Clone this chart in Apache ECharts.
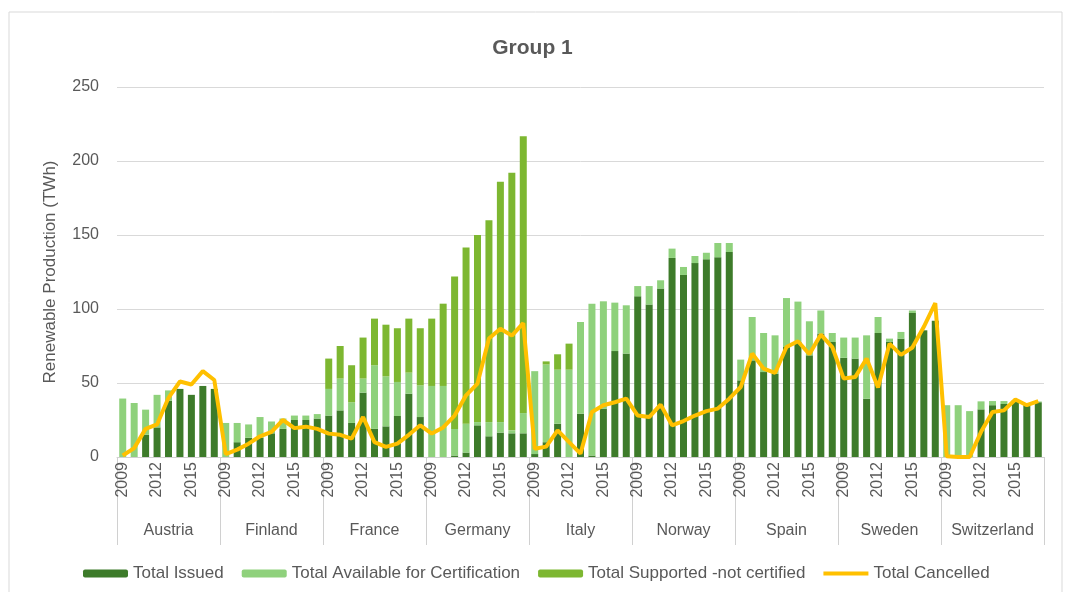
<!DOCTYPE html>
<html>
<head>
<meta charset="utf-8">
<script src="https://cdn.jsdelivr.net/npm/echarts@6/dist/echarts.min.js"></script>
<style>
  html, body { margin: 0; padding: 0; background: #ffffff; }
  #chart { width: 1065px; height: 592px; }
</style>
</head>
<body>
<div id="chart"></div>
<script>
const countries = ['Austria', 'Finland', 'France', 'Germany', 'Italy', 'Norway', 'Spain', 'Sweden', 'Switzerland'];
const years = ['2009', '2010', '2011', '2012', '2013', '2014', '2015', '2016', '2017'];
const shownYears = ['2009', '2012', '2015'];
const yTicks = [0, 50, 100, 150, 200, 250];

// one row of 9 values (2009-2017) per country, countries in the order above
const totalIssued = [
  0, 0, 15, 20, 38, 46, 42, 48, 46,
  0, 10, 13, 13, 16, 19, 25, 25, 26,
  28, 31.5, 23, 43.5, 19, 20.7, 27.7, 42.8, 27,
  0, 0, 1, 3, 21.4, 14, 16.5, 16, 16,
  2, 10, 22.5, 0, 29.3, 1, 32.7, 71.6, 69.9,
  108.6, 103, 113.8, 134.5, 123, 131, 133.6, 135, 138.5,
  51.8, 65.3, 57.4, 56.3, 74.3, 77.7, 68.7, 83.4, 77.7,
  67, 66.5, 39.4, 83.8, 78, 80, 97.3, 85.6, 92,
  0, 0, 0, 32.2, 35, 35.8, 38.5, 35, 37
];
const totalAvailable = [
  39.5, 36.5, 17, 22, 7, 0, 0, 0, 0,
  23, 13, 9, 14, 8, 7, 3, 3, 3,
  18, 21.5, 14, 9.5, 43, 33.8, 23, 14.2, 21.4,
  48, 48, 18, 19.5, 2.2, 9.6, 7.1, 2, 13.7,
  56, 52.5, 36.5, 59, 61.9, 102.6, 72.5, 32.7, 32.6,
  6.9, 12.5, 5.6, 6.3, 5.4, 4.8, 4.4, 9.6, 6.1,
  14, 29.3, 26.4, 25.9, 33.1, 27.3, 23, 15.6, 6.1,
  13.7, 14.2, 42.8, 10.8, 2, 4.5, 1.7, 0, 0,
  35, 35, 31, 5.4, 2.8, 2, 0, 1, 0.5
];
const totalSupported = [
  0, 0, 0, 0, 0, 0, 0, 0, 0,
  0, 0, 0, 0, 0, 0, 0, 0, 0,
  20.5, 22, 25, 27.7, 31.5, 34.9, 36.3, 36.5, 38.6,
  45.5, 55.6, 103, 119, 126.4, 136.4, 162.4, 174, 187,
  0, 2.1, 10.4, 17.6, 0, 0, 0, 0, 0,
  0, 0, 0, 0, 0, 0, 0, 0, 0,
  0, 0, 0, 0, 0, 0, 0, 0, 0,
  0, 0, 0, 0, 0, 0, 0, 0, 0,
  0, 0, 0, 0, 0, 0, 0, 0, 0
];
const totalCancelled = [
  1, 6, 19, 22, 40, 51, 49, 58, 52,
  2, 5, 9, 14, 17, 25, 19.5, 20.5, 19,
  15.8, 15, 12.4, 27, 10, 6.8, 9, 15, 21.4,
  15.8, 20, 28, 41.7, 49.6, 80, 86.7, 82, 90.5,
  5.6, 7, 18, 10, 2.3, 30.4, 35, 37, 39.4,
  28, 27, 35.4, 21.4, 24.3, 28, 31, 32.7, 39.4,
  47.3, 69.9, 59.7, 56.8, 74.3, 78.2, 69.4, 82.7, 74.3,
  53, 54, 66.5, 47, 76.6, 69, 74, 88, 104,
  0.5, 0, 0, 17, 30.4, 31.5, 38.8, 35, 37.8
];

const categories = [];
countries.forEach(c => years.forEach(y => categories.push(c + '|' + y)));

const FONT = "'Liberation Sans', Arial, sans-serif";
const TXT = '#595959';

const chart = echarts.init(document.getElementById('chart'), null, { renderer: 'canvas' });
chart.setOption({
  backgroundColor: '#ffffff',
  animation: false,
  textStyle: { fontFamily: FONT },
  graphic: [{
    type: 'rect', silent: true, z: -10,
    shape: { x: 9, y: 12, width: 1053, height: 600 },
    style: { fill: 'none', stroke: '#d9d9d9', lineWidth: 1 }
  }],
  title: {
    text: 'Group 1', left: 'center', top: 33,
    textStyle: { fontFamily: FONT, fontSize: 21, fontWeight: 'bold', color: TXT }
  },
  legend: {
    left: 78, top: 560, itemGap: 18, itemWidth: 45, itemHeight: 8,
    textStyle: { fontFamily: FONT, fontSize: 17, color: TXT },
    data: [
      'Total Issued',
      'Total Available for Certification',
      'Total Supported -not certified',
      { name: 'Total Cancelled', icon: 'path://M0,0L45,0L45,4L0,4Z' }
    ]
  },
  grid: { left: 117, right: 21, top: 87, bottom: 135, containLabel: false },
  xAxis: [{
    type: 'category', data: categories, position: 'bottom',
    axisLine: { show: true, lineStyle: { color: '#d0d0d0', width: 1 } },
    axisTick: { show: false },
    axisLabel: {
      rotate: 90, margin: 5, fontFamily: FONT, fontSize: 16, color: TXT,
      interval: (idx) => shownYears.includes(categories[idx].split('|')[1]),
      formatter: (v) => v.split('|')[1]
    },
    splitLine: { show: false }
  }, {
    type: 'category', data: countries, position: 'bottom', offset: 88,
    axisLine: { show: false },
    axisTick: { show: true, inside: true, length: 88, interval: 0, lineStyle: { color: '#d0d0d0' } },
    axisLabel: { inside: true, margin: 6, interval: 0, fontFamily: FONT, fontSize: 16, color: TXT },
    splitLine: { show: false }
  }],
  yAxis: {
    type: 'value', min: yTicks[0], max: yTicks[yTicks.length - 1], interval: 50,
    name: 'Renewable Production (TWh)', nameLocation: 'middle', nameGap: 58, nameRotate: 90,
    nameTextStyle: { fontFamily: FONT, fontSize: 17, color: TXT },
    axisLine: { show: false }, axisTick: { show: false },
    axisLabel: { fontFamily: FONT, fontSize: 16, color: TXT, margin: 18 },
    splitLine: { lineStyle: { color: '#d9d9d9', width: 1 } }
  },
  series: [{
    name: 'Total Issued', type: 'bar', stack: 'total', barWidth: 7,
    itemStyle: { color: '#3d7b2a' }, data: totalIssued
  }, {
    name: 'Total Available for Certification', type: 'bar', stack: 'total', barWidth: 7,
    itemStyle: { color: '#8fd17c' }, data: totalAvailable
  }, {
    name: 'Total Supported -not certified', type: 'bar', stack: 'total', barWidth: 7,
    itemStyle: { color: '#7db731' }, data: totalSupported
  }, {
    name: 'Total Cancelled', type: 'line', symbol: 'none', z: 10,
    lineStyle: { color: '#ffc000', width: 4 }, itemStyle: { color: '#ffc000' },
    data: totalCancelled
  }]
});
</script>
</body>
</html>
